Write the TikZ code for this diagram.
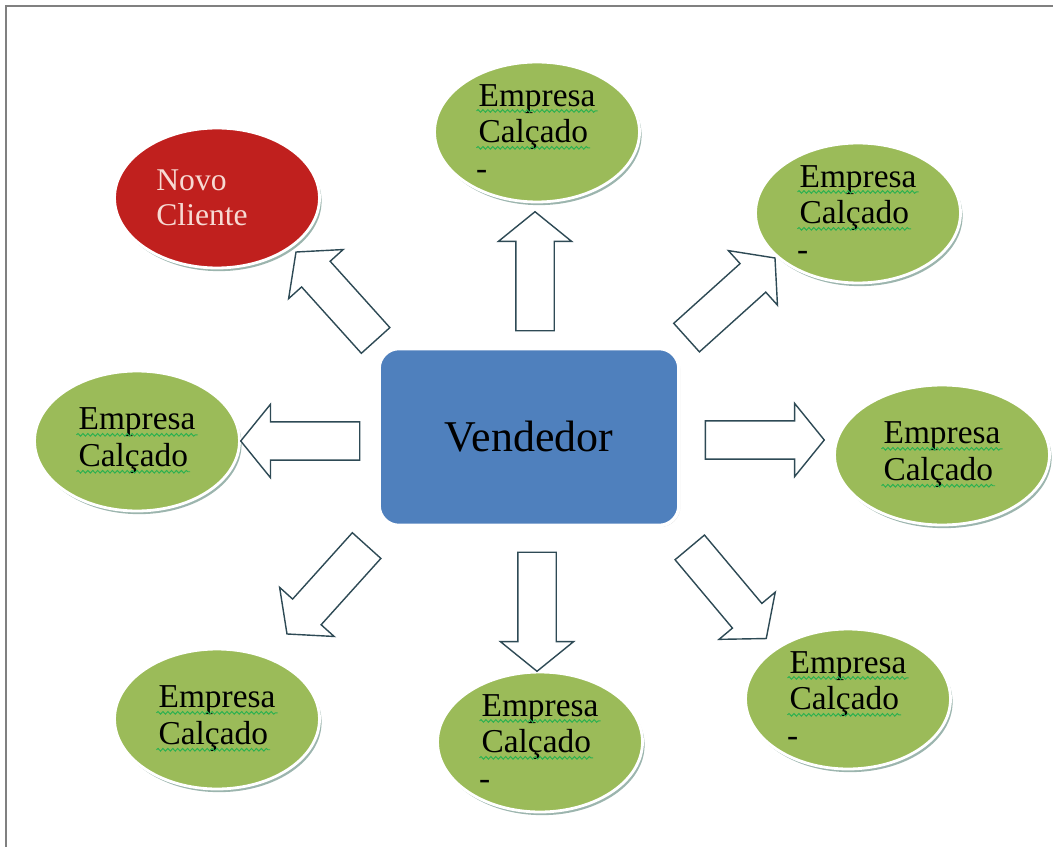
\documentclass[tikz,border=0pt]{standalone}
\usepackage{fontspec}
\setmainfont{Liberation Serif}
\usetikzlibrary{shapes.geometric,shapes.arrows,shadows,decorations.pathmorphing}

\definecolor{leaf}{HTML}{9BBB59}
\definecolor{clientred}{HTML}{C0201E}
\definecolor{clienttext}{HTML}{F7DAD3}
\definecolor{vendblue}{HTML}{4F80BD}
\definecolor{rim}{HTML}{9CB5AE}
\definecolor{arrowline}{HTML}{2E4A55}
\definecolor{spell}{HTML}{2BB150}
\newcommand{\spellmark}[1]{\tikz[baseline=(w.base)]{\node[shape=rectangle, inner sep=0pt, minimum width=0pt, minimum height=0pt, draw=none, fill=none, text=black] (w) {#1}; \draw[spell, line width=0.55pt, decorate, decoration={snake, amplitude=0.75pt, segment length=2.8pt}] ([yshift=-2.8pt, xshift=-1pt]w.base west) -- ([yshift=-2.8pt, xshift=1pt]w.base east);}}

\tikzset{
  company/.style={ellipse, fill=leaf, draw=white, line width=1.6pt, minimum width=4.1cm, minimum height=2.8cm, inner sep=0pt, align=left, font=\fontsize{19}{21}\selectfont, general shadow={fill=rim, shadow xshift=1.2pt, shadow yshift=-1.8pt}},
  blockarrow/.style={single arrow, draw=arrowline, fill=white, line width=0.8pt, inner xsep=0pt, inner ysep=0.37cm, single arrow head extend=0.35cm, single arrow tip angle=102, minimum height=2.38cm}
}

\begin{document}
\begin{tikzpicture}[x=0.02cm, y=-0.02cm]
\useasboundingbox (0,0) rectangle (1053,847);
\draw[gray, line width=1.1pt] (6,847) -- (6,6) -- (1053,6);
% centre
\node[rectangle, rounded corners=0.4cm, fill=vendblue, draw=white, line width=2pt, minimum width=6cm, minimum height=3.54cm, font=\fontsize{25}{30}\selectfont, general shadow={fill=black!15, shadow xshift=0.8pt, shadow yshift=-0.8pt}] (V) at (529,437) {Vendedor};
% clients
\node[company, fill=clientred, font=\fontsize{18}{20}\selectfont, text=clienttext] (N) at (217,198) {Novo\\Cliente\hspace*{17pt}};
\node[company] (E1) at (537,132) {\spellmark{Empresa}\\\spellmark{Calçado}\\-};
\node[company] (E2) at (858,213) {\spellmark{Empresa}\\\spellmark{Calçado}\\-};
\node[company] (E3) at (137,441) {\spellmark{Empresa}\\\spellmark{Calçado}};
\node[company, minimum width=4.3cm] (E4) at (942,455) {\spellmark{Empresa}\\\spellmark{Calçado}};
\node[company] (E5) at (217,719) {\spellmark{Empresa}\\\spellmark{Calçado}};
\node[company] (E6) at (540,742) {\spellmark{Empresa}\\\spellmark{Calçado}\\-};
\node[company] (E7) at (848,699) {\spellmark{Empresa}\\\spellmark{Calçado}\\-};
% arrows
\node[blockarrow, rotate=90] (A1) at (535,279) {};
\node[blockarrow, rotate=-90] (A2) at (537,604) {};
\node[blockarrow, rotate=180] (A3) at (308,441) {};
\node[blockarrow, rotate=0] (A4) at (757,440) {};
\node[blockarrow, rotate=132] (A5) at (341,302) {};
\node[blockarrow, rotate=42] (A6) at (725,303) {};
\node[blockarrow, rotate=-132] (A7) at (332,584) {};
\node[blockarrow, rotate=-50] (A8) at (723,587) {};
\end{tikzpicture}
\end{document}
